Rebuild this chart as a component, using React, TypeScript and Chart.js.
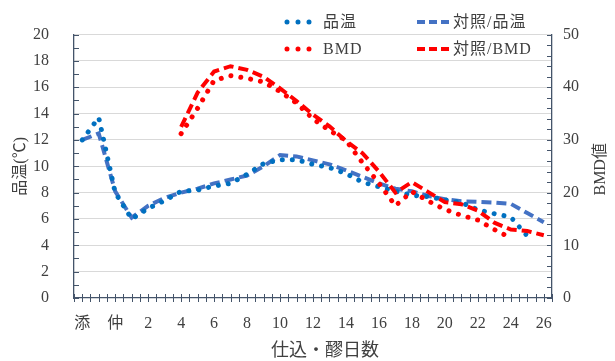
import React, { useEffect, useRef } from 'react';
import { Chart, registerables } from 'chart.js';

Chart.register(...registerables);

// ---- data ----
const categories = ['添', '踊', '仲', '留', '2', '3', '4', '5', '6', '7', '8', '9', '10', '11', '12', '13', '14', '15', '16', '17', '18', '19', '20', '21', '22', '23', '24', '25', '26'];
const seriesNames = ['品温', '対照/品温', 'BMD', '対照/BMD'];

const hinon = [12.0, 13.7, 8.0, 6.0, 6.8, 7.4, 8.1, 8.2, 8.5, 8.7, 9.4, 10.2, 10.5, 10.5, 10.15, 9.9, 9.45, 8.8, 8.45, 8.1, 7.8, 7.7, 7.45, 7.25, 6.7, 6.4, 6.15, 4.7, null];
const taishoHinon = [12.0, 12.5, 8.1, 6.1, 7.0, 7.6, 8.0, 8.3, 8.7, 9.0, 9.3, 10.0, 10.85, 10.75, 10.45, 10.15, 9.7, 9.2, 8.7, 8.3, 8.1, 7.75, 7.5, 7.35, 7.3, 7.25, 7.15, 6.45, 5.75];
const bmd = [null, null, null, null, null, null, 31.2, 36.0, 41.3, 42.2, 41.7, 41.0, 39.2, 37.0, 34.0, 31.8, 29.9, 25.7, 21.8, 17.5, 20.2, 18.4, 16.8, 15.7, 14.8, 13.0, 11.4, null, null];
const taishoBmd = [null, null, null, null, null, null, 32.5, 39.0, 43.0, 44.0, 43.3, 42.0, 39.8, 37.4, 34.8, 32.6, 29.8, 27.5, 24.0, 20.0, 22.0, 20.1, 18.2, 17.8, 16.6, 14.3, 13.0, 12.7, 11.9];

const leftTitle = '品温(℃)';
const rightTitle = 'BMD値';
const xTitle = '仕込・醪日数';

// ---- styles ----
const AXIS = '#44546A';
const GRID = '#D9D9D9';
const TEXT = '#404040';
const BLUE_DOT = '#0070C0';
const BLUE_DASH = '#4472C4';
const RED = '#FF0000';
const FONT = '"Liberation Serif", "Noto Sans CJK JP", serif';

const toPoints = (arr: (number | null)[]) =>
  arr.map((v, i) => (v == null ? null : { x: i, y: v })).filter((p) => p !== null) as { x: number; y: number }[];

const axisDecor = {
  id: 'axisDecor',
  afterDraw(chart: any) {
    const { ctx, chartArea: a, scales } = chart;
    const x = scales.x, y = scales.y, y1 = scales.y1;
    ctx.save();
    ctx.strokeStyle = AXIS;
    ctx.lineWidth = 1;
    ctx.beginPath();
    x.ticks.forEach((t: any) => {
      const p = Math.round(x.getPixelForValue(t.value)) + 0.5;
      ctx.moveTo(p, a.bottom - 4);
      ctx.lineTo(p, a.bottom + 4);
    });
    y.ticks.forEach((t: any) => {
      const p = Math.round(y.getPixelForValue(t.value)) + 0.5;
      ctx.moveTo(a.left, p);
      ctx.lineTo(a.left + 5, p);
    });
    y1.ticks.forEach((t: any) => {
      const p = Math.round(y1.getPixelForValue(t.value)) + 0.5;
      ctx.moveTo(a.right - 5, p);
      ctx.lineTo(a.right, p);
    });
    ctx.stroke();

    ctx.fillStyle = TEXT;
    ctx.textAlign = 'center';
    ctx.textBaseline = 'middle';
    ctx.font = `18px ${FONT}`;
    ctx.fillText(xTitle, (a.left + a.right) / 2 + 12, a.bottom + 53);
    ctx.font = `16px ${FONT}`;
    ctx.translate(a.right + 49, (a.top + a.bottom) / 2 + 3);
    ctx.rotate(-Math.PI / 2);
    ctx.fillText(rightTitle, 0, 0);
    ctx.restore();
  },
};

export default function App() {
  const ref = useRef<HTMLCanvasElement>(null);

  useEffect(() => {
    const chart = new Chart(ref.current as HTMLCanvasElement, {
      type: 'line',
      data: {
        datasets: [
          {
            label: seriesNames[0],
            data: toPoints(hinon),
            yAxisID: 'y',
            borderColor: BLUE_DOT,
            borderWidth: 5,
            borderDash: [0.01, 10],
            borderCapStyle: 'round',
            pointRadius: 0,
            tension: 0,
            order: 1,
          },
          {
            label: seriesNames[1],
            data: toPoints(taishoHinon),
            yAxisID: 'y',
            borderColor: BLUE_DASH,
            borderWidth: 4,
            borderDash: [10, 5],
            borderCapStyle: 'butt',
            pointRadius: 0,
            tension: 0,
            order: 2,
          },
          {
            label: seriesNames[2],
            data: toPoints(bmd),
            yAxisID: 'y1',
            borderColor: RED,
            borderWidth: 5,
            borderDash: [0.01, 10],
            borderCapStyle: 'round',
            pointRadius: 0,
            tension: 0,
            order: 0,
          },
          {
            label: seriesNames[3],
            data: toPoints(taishoBmd),
            yAxisID: 'y1',
            borderColor: RED,
            borderWidth: 4,
            borderDash: [10, 5],
            borderCapStyle: 'butt',
            pointRadius: 0,
            tension: 0,
            order: 0,
          },
        ],
      },
      options: {
        responsive: false,
        animation: false,
        layout: { padding: { top: 32.5, left: 0, right: 0, bottom: 0 } },
        plugins: { legend: { display: false }, tooltip: { enabled: false }, title: { display: false } },
        scales: {
          x: {
            type: 'linear',
            min: -0.5,
            max: 28.5,
            afterFit: (s: any) => { s.height = 63; },
            grid: { drawOnChartArea: false, drawTicks: false },
            border: { color: AXIS, width: 1.3 },
            ticks: {
              stepSize: 0.5,
              maxTicksLimit: 1000,
              autoSkip: false,
              maxRotation: 0,
              padding: 16,
              color: TEXT,
              font: { family: FONT, size: 16 },
              callback: (value: any) => {
                const v = Number(value);
                return Number.isInteger(v) && v % 2 === 0 ? categories[v] ?? '' : '';
              },
            },
          },
          y: {
            type: 'linear',
            position: 'left',
            min: 0,
            max: 20,
            afterFit: (s: any) => { s.width = 74; },
            grid: {
              drawTicks: false,
              color: (c: any) => (c.tick && c.tick.value % 2 === 0 && c.tick.value !== 0 ? GRID : 'rgba(0,0,0,0)'),
              lineWidth: 1,
            },
            border: { color: AXIS, width: 1.3 },
            title: {
              display: true,
              text: leftTitle,
              color: TEXT,
              font: { family: FONT, size: 16 },
              padding: { top: 11, bottom: 0 },
            },
            ticks: {
              stepSize: 1,
              autoSkip: false,
              padding: 25,
              color: TEXT,
              font: { family: FONT, size: 16 },
              callback: (value: any) => (Number(value) % 2 === 0 ? String(value) : ''),
            },
          },
          y1: {
            type: 'linear',
            position: 'right',
            min: 0,
            max: 50,
            afterFit: (s: any) => { s.width = 63; },
            grid: { drawOnChartArea: false, drawTicks: false },
            border: { color: AXIS, width: 1.3 },
            ticks: {
              stepSize: 2,
              autoSkip: false,
              padding: 11,
              color: TEXT,
              font: { family: FONT, size: 16 },
              callback: (value: any) => (Number(value) % 10 === 0 ? String(value) : ''),
            },
          },
        },
      },
      plugins: [axisDecor],
    } as any);
    return () => chart.destroy();
  }, []);

  const legendCols = [282, 414];
  const legendRows = [22, 49];
  const legendItems = [
    { name: seriesNames[0], color: BLUE_DOT, dotted: true, col: 0, row: 0 },
    { name: seriesNames[1], color: BLUE_DASH, dotted: false, col: 1, row: 0 },
    { name: seriesNames[2], color: RED, dotted: true, col: 0, row: 1 },
    { name: seriesNames[3], color: RED, dotted: false, col: 1, row: 1 },
  ];

  return (
    <div style={{ position: 'fixed', left: 0, top: 0, width: 615, height: 361, background: '#fff', overflow: 'hidden' }}>
      <canvas ref={ref} width={615} height={361} style={{ position: 'absolute', left: 0, top: 0, width: 615, height: 361 }} />
      {legendItems.map((it) => {
        const left = legendCols[it.col];
        const cy = legendRows[it.row];
        return (
          <div key={it.name} style={{ position: 'absolute', left, top: cy - 10, height: 20, display: 'flex', alignItems: 'center' }}>
            <svg width={it.dotted ? 41 : 39} height={20} style={{ display: 'block' }}>
              {it.dotted ? (
                <line x1={5} y1={10} x2={28} y2={10} stroke={it.color} strokeWidth={5} strokeLinecap="round" strokeDasharray="0 11" />
              ) : (
                <line x1={3} y1={10} x2={36} y2={10} stroke={it.color} strokeWidth={4} strokeDasharray="8 4" />
              )}
            </svg>
            <span style={{ fontFamily: FONT, fontSize: 16, color: TEXT, lineHeight: '20px', whiteSpace: 'nowrap', letterSpacing: 1 }}>{it.name}</span>
          </div>
        );
      })}
    </div>
  );
}
